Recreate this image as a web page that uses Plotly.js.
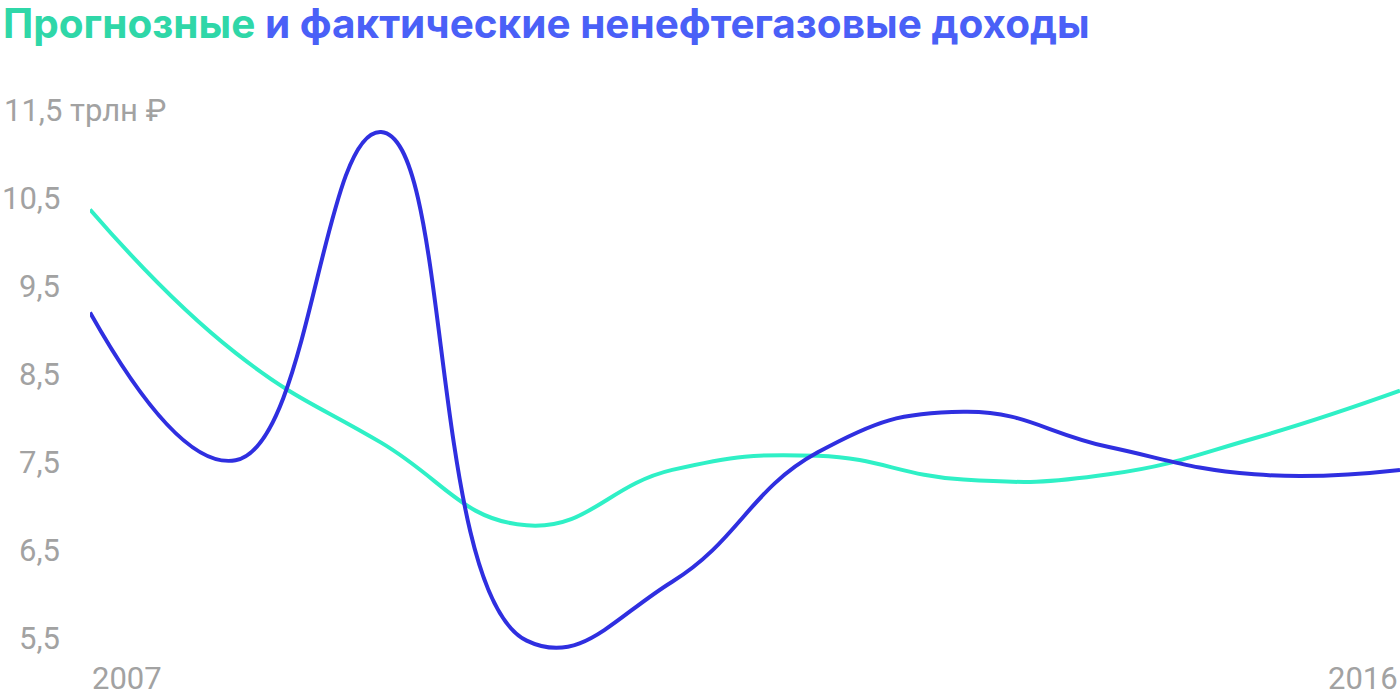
<!DOCTYPE html>
<html>
<head>
<meta charset="utf-8">
<script src="https://cdn.plot.ly/plotly-3.0.1.min.js"></script>
<style>
html,body{margin:0;padding:0;background:#fff;}
#chart{width:1400px;height:698px;}
</style>
</head>
<body>
<div id="chart"></div>
<script>
// Data
const years = [2007, 2008, 2009, 2010, 2011, 2012, 2013, 2014, 2015, 2016];
const forecast = [10.37, 8.74, 7.72, 6.78, 7.41, 7.57, 7.30, 7.36, 7.77, 8.31];   // Прогнозные
const actual   = [9.20, 7.52, 11.25, 5.47, 6.14, 7.61, 8.07, 7.67, 7.36, 7.41];  // Фактические
const yTickVals = [5.5, 6.5, 7.5, 8.5, 9.5, 10.5, 11.5];
const yTickText = ['5,5', '6,5', '7,5', '8,5', '9,5', '10,5', '11,5 трлн ₽'];
const xTickText = ['2007', '2016'];

const titleGreen = 'Прогнозные';
const titleRest = ' и фактические ненефтегазовые доходы';

const tickFont = {family: 'Roboto, sans-serif', size: 31, color: '#a2a2a2', weight: 400};

const traces = [
  {
    x: years, y: forecast, type: 'scatter', mode: 'lines',
    line: {color: '#2ff0c6', width: 4, shape: 'spline', smoothing: 1.3},
    hoverinfo: 'skip'
  },
  {
    x: years, y: actual, type: 'scatter', mode: 'lines',
    line: {color: '#2f2fe0', width: 4, shape: 'spline', smoothing: 1.3},
    hoverinfo: 'skip'
  }
];

const annotations = [];
yTickVals.forEach((v, i) => {
  const last = i === yTickVals.length - 1;
  annotations.push({
    xref: 'paper', yref: 'y',
    x: last ? -90/1310 + 2/1310 : -28/1310, y: v,
    xanchor: last ? 'left' : 'right', yanchor: 'middle',
    text: yTickText[i], showarrow: false, font: tickFont
  });
});
annotations.push({
  xref: 'x', yref: 'paper', x: years[0], y: 0,
  xanchor: 'left', yanchor: 'middle', xshift: 0, yshift: -10,
  text: xTickText[0], showarrow: false, font: tickFont
});
annotations.push({
  xref: 'x', yref: 'paper', x: years[years.length - 1], y: 0,
  xanchor: 'right', yanchor: 'middle', xshift: 0, yshift: -10,
  text: xTickText[1], showarrow: false, font: tickFont
});

const layout = {
  width: 1400, height: 698,
  margin: {l: 90, r: 0, t: 60, b: 30, pad: 0},
  paper_bgcolor: '#ffffff', plot_bgcolor: '#ffffff',
  showlegend: false,
  title: {
    text: '<span style="color:#2fd7a8">' + titleGreen + '</span>' + titleRest,
    font: {family: 'Inter, Roboto, sans-serif', size: 40.5, color: '#4a60f7', weight: 700},
    xref: 'container', yref: 'container',
    x: 3/1400, xanchor: 'left',
    y: 1 - 24/698, yanchor: 'middle'
  },
  xaxis: {
    range: [2007, 2016], showgrid: false, zeroline: false, showline: false,
    showticklabels: false, ticks: '', fixedrange: true
  },
  yaxis: {
    range: [5.5 - 30/88, 11.5 + 50/88], showgrid: false, zeroline: false, showline: false,
    showticklabels: false, ticks: '', fixedrange: true
  },
  annotations: annotations
};

Plotly.newPlot('chart', traces, layout, {displayModeBar: false, staticPlot: true});
</script>
</body>
</html>
